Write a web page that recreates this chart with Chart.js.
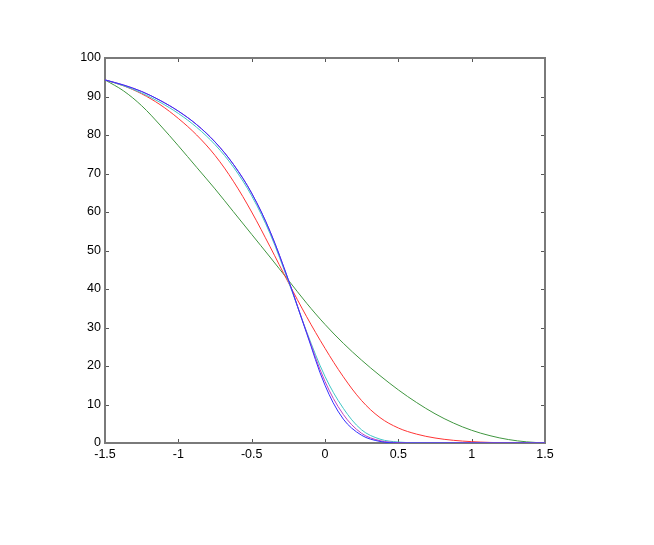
<!DOCTYPE html>
<html>
<head>
<meta charset="utf-8">
<script src="https://cdn.jsdelivr.net/npm/chart.js@4/dist/chart.umd.min.js"></script>
<style>
  html, body { margin: 0; padding: 0; background: #fff; }
  #wrap { width: 654px; height: 545px; }
</style>
</head>
<body>
<div id="wrap"><canvas id="plot" width="654" height="545"></canvas></div>
<script>
const xValues = [-1.5, -1.375, -1.25, -1.125, -1, -0.875, -0.75, -0.625, -0.5, -0.375, -0.25, -0.125,
  0, 0.125, 0.25, 0.375, 0.5, 0.625, 0.75, 0.875, 1, 1.125, 1.25, 1.375, 1.5];

const greenSeries = [94.3, 91.5, 87.6, 82.6, 77.2, 71.6, 66, 60.1, 54.2, 48.3, 42.3, 36.3,
  30.8, 25.9, 21.5, 17.5, 13.8, 10.5, 7.6, 5.2, 3.3, 1.9, 0.9, 0.3, 0];
const redSeries = [94.3, 92.8, 90.7, 87.9, 84.3, 80, 74.7, 68, 60, 51, 41.7, 32.8,
  24.6, 17.2, 11, 6.6, 3.9, 2.3, 1.3, 0.7, 0.35, 0.15, 0.05, 0, 0];
const cyanSeries = [94.3, 92.8, 90.9, 88.5, 85.6, 82, 77.5, 71.7, 64.2, 54.4, 42, 28.9,
  17.3, 9, 3.4, 1, 0.25, 0.05, 0, 0, 0, 0, 0, 0, 0];
const magentaSeries = [94.3, 93, 91.3, 89, 86.2, 82.7, 78.2, 72.4, 64.9, 55, 42.4, 28.7,
  16, 7.4, 2.5, 0.6, 0.1, 0, 0, 0, 0, 0, 0, 0, 0];
const blueSeries = [94.3, 93, 91.3, 89, 86.2, 82.7, 78.2, 72.4, 64.9, 55, 42.4, 28.5,
  15, 6.2, 2, 0.4, 0, 0, 0, 0, 0, 0, 0, 0, 0];

const xTicks = [-1.5, -1, -0.5, 0, 0.5, 1, 1.5];
const yTicks = [0, 10, 20, 30, 40, 50, 60, 70, 80, 90, 100];

function toPoints(values) {
  return values.map((v, i) => ({ x: xValues[i], y: v }));
}

function makeSet(label, values, color) {
  return {
    label: label,
    data: toPoints(values),
    borderColor: color,
    borderWidth: 1,
    pointRadius: 0,
    fill: false,
    tension: 0.35,
  };
}

// box around the axes with inward ticks, matlab style (drawn under the curves)
const boxPlugin = {
  id: "box",
  beforeDatasetsDraw(chart) {
    const { ctx, chartArea } = chart;
    const xs = chart.scales.x;
    const ys = chart.scales.y;
    const { left, right, top, bottom } = chartArea;
    ctx.save();
    ctx.strokeStyle = "#555";
    ctx.lineWidth = 1;
    ctx.beginPath();
    xTicks.forEach((t) => {
      const px = Math.round(xs.getPixelForValue(t)) + 0.5;
      ctx.moveTo(px, bottom);
      ctx.lineTo(px, bottom - 4);
      ctx.moveTo(px, top);
      ctx.lineTo(px, top + 4);
    });
    yTicks.forEach((t) => {
      const py = Math.round(ys.getPixelForValue(t)) + 0.5;
      ctx.moveTo(left, py);
      ctx.lineTo(left + 4, py);
      ctx.moveTo(right, py);
      ctx.lineTo(right - 4, py);
    });
    ctx.stroke();
    ctx.strokeStyle = "#7a7a7a";
    ctx.lineWidth = 2;
    ctx.strokeRect(left, top, right - left, bottom - top);
    ctx.restore();
  },
};

const tickFont = { family: "'Liberation Sans', Arial, sans-serif", size: 12.5 };

new Chart(document.getElementById("plot"), {
  type: "line",
  data: {
    datasets: [
      makeSet("blue", blueSeries, "#3030ff"),
      makeSet("magenta", magentaSeries, "#c040c0"),
      makeSet("cyan", cyanSeries, "#40c6c6"),
      makeSet("red", redSeries, "#ff3434"),
      makeSet("green", greenSeries, "#409640"),
    ],
  },
  options: {
    responsive: false,
    animation: false,
    layout: { padding: { left: 0, top: 58, right: 109, bottom: 0 } },
    scales: {
      x: {
        type: "linear",
        min: -1.5,
        max: 1.5,
        afterFit: (scale) => { scale.height = 102; },
        afterBuildTicks: (scale) => { scale.ticks = xTicks.map((v) => ({ value: v })); },
        grid: { display: false, drawTicks: false },
        border: { display: false },
        ticks: {
          color: "#000",
          font: tickFont,
          padding: 4,
          maxRotation: 0,
          callback: (v) => String(v),
        },
      },
      y: {
        type: "linear",
        min: 0,
        max: 100,
        afterFit: (scale) => { scale.width = 105; },
        afterBuildTicks: (scale) => { scale.ticks = yTicks.map((v) => ({ value: v })); },
        grid: { display: false, drawTicks: false },
        border: { display: false },
        ticks: {
          color: "#000",
          font: tickFont,
          padding: 4,
          callback: (v) => String(v),
        },
      },
    },
    plugins: {
      legend: { display: false },
      tooltip: { enabled: false },
    },
  },
  plugins: [boxPlugin],
});
</script>
</body>
</html>
